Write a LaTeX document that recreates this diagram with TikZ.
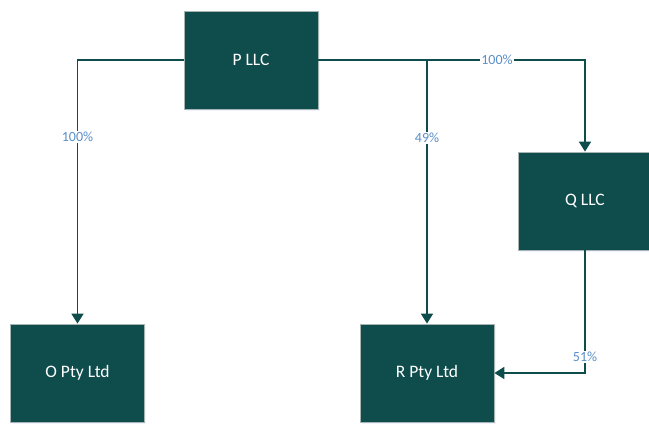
\documentclass[tikz,border=0pt]{standalone}
\usepackage{fontspec}
\setmainfont{Carlito}
\usepackage{tikz}
\usetikzlibrary{arrows.meta,shadows}
\definecolor{boxteal}{HTML}{0F4C4C}
\definecolor{pctblue}{HTML}{5B8FC8}
\definecolor{boxedge}{HTML}{A7B4B4}

\tikzset{
  entity/.style={draw=boxedge,line width=0.8pt,fill=boxteal,text=white,
    minimum width=134pt,minimum height=98pt,inner sep=0pt,
    font=\fontsize{17.5}{19}\selectfont,
    drop shadow={shadow xshift=1.5pt,shadow yshift=-2pt,opacity=0.12,fill=blue!40}},
  link/.style={draw=boxteal,line width=1.8pt,
    -{Triangle[width=12pt,length=10pt]}},
  pct/.style={fill=white,inner sep=1pt,text=pctblue,
    font=\fontsize{14}{15}\selectfont}
}

\begin{document}
\begin{tikzpicture}[x=1pt,y=-1pt]
  \useasboundingbox (0,0) rectangle (649,428);
  % owners and subsidiaries
  \node[entity] (p) at (251,60) {P LLC};
  \node[entity] (q) at (585,201) {Q LLC};
  \node[entity] (o) at (77.5,373) {O Pty Ltd};
  \node[entity] (r) at (427,373) {R Pty Ltd};
  % bend point on the top line
  \coordinate (pr) at (r.north |- p.east);
  % holdings
  \draw[link] (p.west) -| node[pct,pos=0.646]{100\%} (o.north);
  \draw[link] (p.east) -| node[pct,pos=0.335]{100\%} (q.north);
  \draw[link] (pr) -- node[pct,pos=0.295]{49\%} (r.north);
  \draw[link] (q.south) |- node[pct,pos=0.435]{51\%} (r.east);
\end{tikzpicture}
\end{document}
